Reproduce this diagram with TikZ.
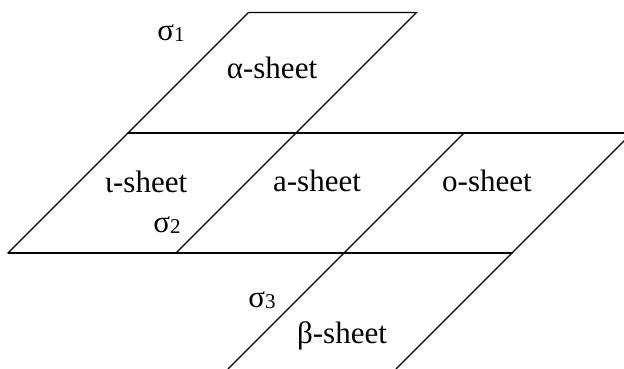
\documentclass[tikz,border=0pt]{standalone}
\usepackage{fontspec}
\setmainfont{Liberation Serif}
\tikzset{
  edge/.style={line width=1.3pt, line cap=round, line join=miter},
  lbl/.style={font=\fontsize{31}{36}\selectfont, inner sep=0pt, anchor=base},
}
\newcommand{\sig}[1]{σ\raisebox{-1pt}{\fontsize{21}{24}\selectfont #1}}
\begin{document}
\begin{tikzpicture}[x=1pt,y=-1pt]
\clip (0,0) rectangle (624,369);
% corners
\coordinate (t1) at (248.5,12.5);
\coordinate (t2) at (416.5,12.5);
\coordinate (m1) at (128,133);
\coordinate (m2) at (296,133);
\coordinate (m3) at (464,133);
\coordinate (m4) at (632,133);
\coordinate (b1) at (8,253);
\coordinate (b2) at (176,253);
\coordinate (b3) at (344,253);
\coordinate (b4) at (512,253);
\coordinate (e3) at (228,369);
\coordinate (e4) at (396,369);
% top sheet
\draw[edge] (m1) -- (t1) -- (t2) -- (m2);
% middle row
\draw[edge] (m1) -- (m4);
\draw[edge] (b1) -- (b4);
\draw[edge] (m1) -- (b1);
\draw[edge] (m2) -- (b2);
\draw[edge] (m3) -- (b3) -- (e3);
\draw[edge] (m4) -- (b4) -- (e4);
% labels
\node[lbl] (alpha) at (272,78) {α-sheet};
\node[lbl] (s1) at (171,41) {\sig{1}};
\node[lbl] (iota) at (146,192) {ι-sheet};
\node[lbl] (s2) at (167,232) {\sig{2}};
\node[lbl] (a) at (317,191) {a-sheet};
\node[lbl] (o) at (487,191) {ο-sheet};
\node[lbl] (s3) at (262,307) {\sig{3}};
\node[lbl] (beta) at (342,343) {β-sheet};
\end{tikzpicture}
\end{document}
